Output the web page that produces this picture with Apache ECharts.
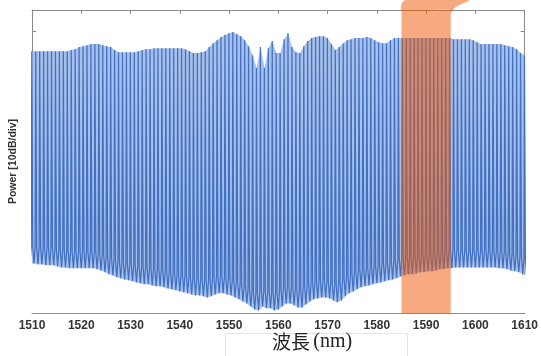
<!DOCTYPE html>
<html>
<head>
<meta charset="utf-8">
<script src="https://cdn.jsdelivr.net/npm/echarts@6/dist/echarts.min.js"></script>
<style>
  html, body { margin: 0; padding: 0; background: #fff; }
  #chart { width: 541px; height: 356px; }
</style>
</head>
<body>
<div id="chart"></div>
<script>
// 通道波长 (nm)
var wavelengths = [
  1510.0, 1510.8, 1511.6, 1512.4, 1513.2, 1514.0, 1514.8, 1515.6, 1516.4, 1517.2,
  1518.0, 1518.8, 1519.6, 1520.4, 1521.2, 1522.0, 1522.8, 1523.6, 1524.4, 1525.2,
  1526.0, 1526.8, 1527.6, 1528.4, 1529.2, 1530.0, 1530.8, 1531.6, 1532.4, 1533.2,
  1534.0, 1534.8, 1535.6, 1536.4, 1537.2, 1538.0, 1538.8, 1539.6, 1540.4, 1541.2,
  1542.0, 1542.8, 1543.6, 1544.4, 1545.2, 1546.0, 1546.8, 1547.6, 1548.4, 1549.2,
  1550.0, 1550.8, 1551.6, 1552.4, 1553.2, 1554.0, 1554.8, 1555.6, 1556.4, 1557.2,
  1558.0, 1558.8, 1559.6, 1560.4, 1561.2, 1562.0, 1562.8, 1563.6, 1564.4, 1565.2,
  1566.0, 1566.8, 1567.6, 1568.4, 1569.2, 1570.0, 1570.8, 1571.6, 1572.4, 1573.2,
  1574.0, 1574.8, 1575.6, 1576.4, 1577.2, 1578.0, 1578.8, 1579.6, 1580.4, 1581.2,
  1582.0, 1582.8, 1583.6, 1584.4, 1585.2, 1586.0, 1586.8, 1587.6, 1588.4, 1589.2,
  1590.0, 1590.8, 1591.6, 1592.4, 1593.2, 1594.0, 1594.8, 1595.6, 1596.4, 1597.2,
  1598.0, 1598.8, 1599.6, 1600.4, 1601.2, 1602.0, 1602.8, 1603.6, 1604.4, 1605.2,
  1606.0, 1606.8, 1607.6, 1608.4, 1609.2, 1610.0
];
// 峰值功率 (dB)
var peakPower = [
  -14.7, -14.7, -14.7, -14.7, -14.7, -14.7, -14.7, -14.7, -14.7, -14.7,
  -14.4, -14.2, -13.7, -13.5, -13.3, -13.0, -13.0, -13.0, -13.3, -13.5,
  -13.7, -14.4, -14.9, -14.9, -14.9, -14.9, -14.9, -14.7, -14.4, -14.2,
  -14.2, -14.0, -14.0, -14.0, -14.0, -14.0, -14.0, -14.0, -14.0, -14.2,
  -14.7, -15.1, -15.1, -14.9, -14.7, -13.7, -12.8, -12.1, -11.4, -10.9,
  -10.5, -10.2, -10.7, -11.2, -12.1, -13.5, -15.6, -18.6, -13.7, -18.6,
  -14.0, -12.3, -15.1, -15.1, -11.9, -10.5, -13.7, -14.9, -15.1, -13.5,
  -12.3, -11.6, -11.4, -11.2, -11.2, -11.6, -13.0, -14.4, -13.7, -12.8,
  -12.1, -11.9, -11.6, -11.6, -11.6, -11.4, -11.6, -12.1, -12.6, -12.8,
  -12.8, -12.1, -11.6, -11.6, -11.6, -11.6, -11.6, -11.6, -11.6, -11.6,
  -11.6, -11.6, -11.6, -11.6, -11.6, -11.6, -11.6, -11.9, -11.9, -11.9,
  -11.9, -11.9, -12.1, -12.6, -13.0, -13.0, -13.0, -13.0, -13.0, -13.0,
  -13.3, -13.5, -13.7, -14.2, -15.1, -15.6
];
// 通道间底部功率 (dB)
var floorPower = [
  -64.0, -64.2, -64.2, -64.4, -64.4, -64.4, -64.7, -64.9, -64.9, -65.1,
  -65.1, -65.1, -65.1, -65.1, -65.1, -65.1, -65.3, -65.6, -66.0, -66.5,
  -66.7, -67.2, -67.4, -67.7, -67.9, -68.1, -68.4, -68.6, -68.8, -68.8,
  -69.1, -69.3, -69.3, -69.5, -69.8, -70.0, -70.2, -70.5, -70.7, -70.9,
  -71.2, -71.4, -71.4, -71.6, -71.9, -71.6, -71.2, -70.9, -70.9, -71.2,
  -71.4, -71.9, -72.3, -72.8, -73.3, -74.0, -74.7, -74.9, -74.0, -74.4,
  -74.4, -74.9, -74.7, -74.0, -73.3, -73.3, -73.7, -74.2, -74.2, -73.5,
  -72.8, -72.3, -72.1, -71.9, -71.9, -72.1, -72.6, -73.0, -72.6, -71.6,
  -70.9, -70.5, -70.0, -69.5, -69.3, -69.1, -68.8, -68.6, -68.4, -68.1,
  -67.9, -67.7, -67.4, -67.0, -66.7, -66.5, -66.5, -66.3, -66.0, -66.0,
  -65.8, -65.8, -65.6, -65.3, -65.3, -65.1, -65.1, -64.9, -64.9, -64.9,
  -64.9, -64.9, -64.9, -64.9, -64.9, -64.9, -64.9, -64.9, -65.1, -65.1,
  -65.3, -65.6, -65.8, -66.0, -66.5, -67.0
];
var xTicks = [1510, 1610, 10];               // min, max, interval
var yRange = [-75.5, -5.1];
var yTickValues = [-70, -60, -50, -40, -30, -20, -10];
var band = [1585, 1595];                      // 橙色标注区域

(function () {
    var chart = echarts.init(document.getElementById('chart'));

    // 梳状谱: 每个通道一个尖峰
    var spikeData = [];
    var peakLine = [];
    var floorLine = [];
    for (var i = 0; i < wavelengths.length; i++) {
        var w = wavelengths[i], pk = peakPower[i], fl = floorPower[i];
        var prevFl = i > 0 ? floorPower[i - 1] : fl;
        spikeData.push([w - 0.4, prevFl]);
        spikeData.push([w - 0.15, fl + 4]);
        spikeData.push([w - 0.04, pk]);
        spikeData.push([w + 0.04, pk]);
        spikeData.push([w + 0.15, fl + 4]);
        peakLine.push([w, pk]);
        floorLine.push([w + 0.4, fl]);
    }
    spikeData.push([wavelengths[wavelengths.length - 1] + 0.4, floorPower[floorPower.length - 1]]);
    floorLine.unshift([wavelengths[0] - 0.4, floorPower[0]]);

    var axisColor = '#8a8a8a';
    var orange = 'rgba(240,85,0,0.5)';

    var option = {
        animation: false,
        grid: { left: 31, right: 11, top: 10, bottom: 43 },
        xAxis: [{
            type: 'value',
            min: xTicks[0], max: xTicks[1], interval: xTicks[2],
            axisLine: { lineStyle: { color: axisColor, width: 1 } },
            axisTick: { inside: true, length: 4, lineStyle: { color: axisColor } },
            axisLabel: {
                color: '#333', fontSize: 12, fontWeight: 'bold', fontFamily: 'Liberation Sans', margin: 7,
                formatter: function (v) { return String(v); }
            },
            splitLine: { show: false }
        }, {
            type: 'value', position: 'top',
            min: xTicks[0], max: xTicks[1], interval: xTicks[2],
            axisLine: { show: true, lineStyle: { color: axisColor, width: 1 } },
            axisTick: { inside: true, length: 4, lineStyle: { color: axisColor } },
            axisLabel: { show: false },
            splitLine: { show: false }
        }],
        yAxis: [{
            type: 'value',
            min: yRange[0], max: yRange[1],
            name: 'Power [10dB/div]',
            nameLocation: 'middle',
            nameGap: 13,
            nameTextStyle: { color: '#333', fontSize: 10.5, fontWeight: 'bold', fontFamily: 'Liberation Sans' },
            axisLine: { show: true, lineStyle: { color: axisColor, width: 1 } },
            axisTick: { show: true, inside: true, length: 4, customValues: yTickValues, lineStyle: { color: axisColor } },
            axisLabel: { show: false },
            splitLine: { show: false }
        }, {
            type: 'value', position: 'right',
            min: yRange[0], max: yRange[1],
            axisLine: { show: true, lineStyle: { color: axisColor, width: 1 } },
            axisTick: { show: true, inside: true, length: 4, customValues: yTickValues, lineStyle: { color: axisColor } },
            axisLabel: { show: false },
            splitLine: { show: false }
        }],
        series: [{
            // 峰值包络以下的浅蓝底色
            name: 'peakFill',
            type: 'line',
            data: peakLine,
            showSymbol: false,
            lineStyle: { opacity: 0 },
            areaStyle: { color: '#a8c1ea', opacity: 1, origin: 'start' },
            silent: true,
            z: 1
        }, {
            // 底部包络以下留白
            name: 'floorFill',
            type: 'line',
            data: floorLine,
            showSymbol: false,
            lineStyle: { opacity: 0 },
            areaStyle: { color: '#ffffff', opacity: 1, origin: 'start' },
            silent: true,
            z: 1.5
        }, {
            name: 'spectrum',
            type: 'line',
            data: spikeData,
            showSymbol: false,
            lineStyle: { color: '#4270c2', width: 1.25 },
            z: 2
        }, {
            // 橙色标注带
            name: 'band',
            type: 'line',
            data: [[band[0], yRange[1]], [band[1], yRange[1]]],
            showSymbol: false,
            lineStyle: { opacity: 0 },
            areaStyle: { color: orange, opacity: 1, origin: 'start' },
            silent: true,
            z: 5
        }]
    };
    chart.setOption(option);

    // 橙色区域上方弯折部分 + 横轴标题框
    var pl = chart.convertToPixel({ xAxisIndex: 0 }, band[0]);
    var pr = chart.convertToPixel({ xAxisIndex: 0 }, band[1]);
    var gTop = chart.convertToPixel({ yAxisIndex: 0 }, yRange[1]);
    chart.setOption({
        graphic: [{
            type: 'polygon',
            z: 10,
            shape: {
                points: [[pl, gTop], [pl, 4], [pl + 4, 0], [pr + 18, 0], [pr + 5, 7], [pr, gTop + 3], [pr, gTop]],
                smooth: 0.25
            },
            style: { fill: orange },
            silent: true
        }, {
            type: 'rect',
            left: 225, top: 333,
            shape: { width: 182, height: 26 },
            style: { fill: '#fff', stroke: '#e4e4e4', lineWidth: 1 },
            silent: true
        }, {
            type: 'text',
            left: 272, top: 332,
            z: 20,
            style: {
                text: '{a|波長} {b|(nm)}',
                fill: '#222',
                rich: {
                    a: { fontFamily: 'Noto Sans CJK JP', fontSize: 19, fill: '#222' },
                    b: { fontFamily: 'Liberation Serif', fontSize: 20, fill: '#222' }
                }
            },
            silent: true
        }]
    });

    window.onresize = function () {
        chart.resize();
    };
})();
</script>
</body>
</html>
